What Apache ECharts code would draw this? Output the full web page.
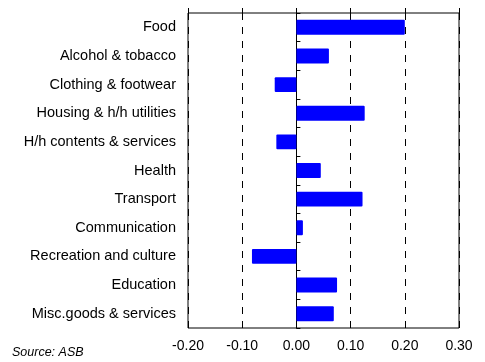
<!DOCTYPE html>
<html><head><meta charset="utf-8">
<script src="https://cdn.jsdelivr.net/npm/echarts@6/dist/echarts.min.js"></script>
<style>html,body{margin:0;padding:0;background:#fff}#c{width:485px;height:362px}</style>
</head><body><div id="c"></div>
<script>
const categories = ["Food","Alcohol & tobacco","Clothing & footwear","Housing & h/h utilities","H/h contents & services","Health","Transport","Communication","Recreation and culture","Education","Misc.goods & services"];
const values = [0.200, 0.060, -0.040, 0.126, -0.037, 0.045, 0.122, 0.012, -0.082, 0.075, 0.069];
const xTickMin = -0.2, xTickMax = 0.3, xTickStep = 0.1;
const sourceText = "Source: ASB";

const chart = echarts.init(document.getElementById('c'), null, {renderer:'canvas'});
const font = 'Liberation Sans, Arial, sans-serif';
chart.setOption({
  animation:false,
  grid:{left:188, right:26, top:13, bottom:34, show:true, borderColor:'#000', borderWidth:1, backgroundColor:'transparent'},
  xAxis:[{
    type:'value', min:xTickMin, max:xTickMax, interval:xTickStep, position:'bottom',
    axisLine:{show:false}, axisTick:{show:false},
    axisLabel:{fontFamily:font, fontSize:14, color:'#000', margin:11, formatter:v=>v.toFixed(2)},
    splitLine:{show:true, lineStyle:{color:'#000', type:[7,7], width:1}}
  },{
    type:'value', min:xTickMin, max:xTickMax, interval:xTickStep, position:'top',
    axisLine:{show:false}, axisTick:{show:true, length:5, lineStyle:{color:'#000'}},
    axisLabel:{show:false}, splitLine:{show:false}
  }],
  yAxis:[{
    type:'category', data:categories, inverse:true,
    axisLine:{show:false}, axisTick:{show:false},
    axisLabel:{fontFamily:font, fontSize:14.5, color:'#000', margin:12}
  },{
    type:'category', data:categories, inverse:true,
    axisLine:{show:true, onZero:true, onZeroAxisIndex:0, lineStyle:{color:'#000', width:1}},
    axisTick:{show:true, length:4, lineStyle:{color:'#000'}},
    axisLabel:{show:false}
  }],
  series:[{
    type:'bar', data:values, xAxisIndex:0, yAxisIndex:0, barWidth:'52%',
    itemStyle:{color:'#0000FF', borderRadius:1}
  }],
  graphic:[{type:'text', left:12, top:346, style:{text:sourceText, font:'italic 12.5px '+font, fill:'#000'}}]
});
</script></body></html>
